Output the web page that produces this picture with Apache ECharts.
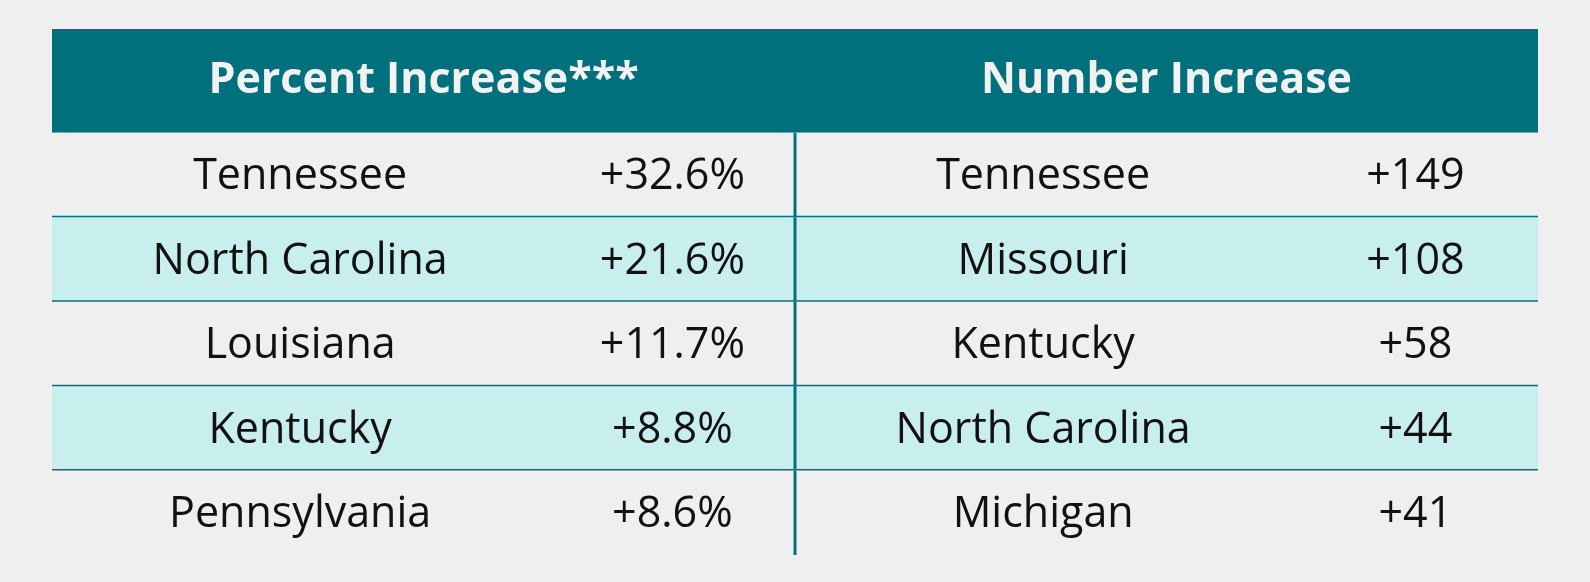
<!DOCTYPE html>
<html>
<head>
<meta charset="utf-8">
<script src="https://cdn.jsdelivr.net/npm/echarts@6/dist/echarts.min.js"></script>
<style>
  html, body { margin: 0; padding: 0; background: #efefef; }
  #main { width: 1590px; height: 582px; }
</style>
</head>
<body>
<div id="main"></div>
<script>
var headers = ['Percent Increase***', 'Number Increase'];
var pctStates = ['Tennessee', 'North Carolina', 'Louisiana', 'Kentucky', 'Pennsylvania'];
var pctValues = ['+32.6%', '+21.6%', '+11.7%', '+8.8%', '+8.6%'];
var numStates = ['Tennessee', 'Missouri', 'Kentucky', 'North Carolina', 'Michigan'];
var numValues = ['+149', '+108', '+58', '+44', '+41'];

var HEADER_H = 1.23; // header row is taller than body rows
var teal = '#00707c';
var font = '"Open Sans", Lato, sans-serif';

var chart = echarts.init(document.getElementById('main'));

// row index -1 is the header
var rows = [[-1]];
pctStates.forEach(function (s, i) { rows.push([i]); });

function txt(x, y, s, size, weight, color) {
    return {
        type: 'text',
        style: { x: x, y: y, text: s, fill: color, font: weight + ' ' + size + 'px ' + font, align: 'center', verticalAlign: 'middle' }
    };
}

function renderItem(params, api) {
    var i = api.value(0);
    var top = i < 0 ? 0 : HEADER_H + i;
    var bot = i < 0 ? HEADER_H : HEADER_H + i + 1;
    var p0 = api.coord([0, top]);
    var p1 = api.coord([2, bot]);
    var mid = api.coord([1, top])[0];
    var w = (p1[0] - p0[0]) / 2;
    var cy = (p0[1] + p1[1]) / 2 + 2;
    var children = [];
    var bg = i < 0 ? teal : (i % 2 === 1 ? '#c9eeee' : '#efefef');
    children.push({ type: 'rect', shape: { x: p0[0], y: p0[1], width: p1[0] - p0[0], height: p1[1] - p0[1] }, style: { fill: bg } });
    if (i < 0) {
        children.push(txt(p0[0] + w * 0.5, cy - 2, headers[0], 43, 'bold', '#f2f2f2'));
        children.push(txt(mid + w * 0.5, cy - 2, headers[1], 43, 'bold', '#f2f2f2'));
    } else {
        children.push(txt(p0[0] + w * 0.334, cy, pctStates[i], 43, 'normal', '#111'));
        children.push(txt(p0[0] + w * 0.835, cy, pctValues[i], 43, 'normal', '#111'));
        children.push(txt(mid + w * 0.334, cy, numStates[i], 43, 'normal', '#111'));
        children.push(txt(mid + w * 0.835, cy, numValues[i], 43, 'normal', '#111'));
        children.push({ type: 'line', shape: { x1: mid, y1: p0[1], x2: mid, y2: p1[1] }, style: { stroke: teal, lineWidth: 3 } });
        if (i < pctStates.length - 1) {
            children.push({ type: 'line', shape: { x1: p0[0], y1: p1[1], x2: p1[0], y2: p1[1] }, style: { stroke: teal, lineWidth: 3 } });
        }
    }
    return { type: 'group', children: children };
}

var option = {
    backgroundColor: '#efefef',
    animation: false,
    grid: { left: 52, right: 52, top: 29, bottom: 27 },
    xAxis: { type: 'value', min: 0, max: 2, show: false },
    yAxis: { type: 'value', min: 0, max: HEADER_H + pctStates.length, inverse: true, show: false },
    series: [{
        type: 'custom',
        renderItem: renderItem,
        data: rows,
        encode: { x: -1, y: 0 }
    }]
};
chart.setOption(option);
</script>
</body>
</html>
